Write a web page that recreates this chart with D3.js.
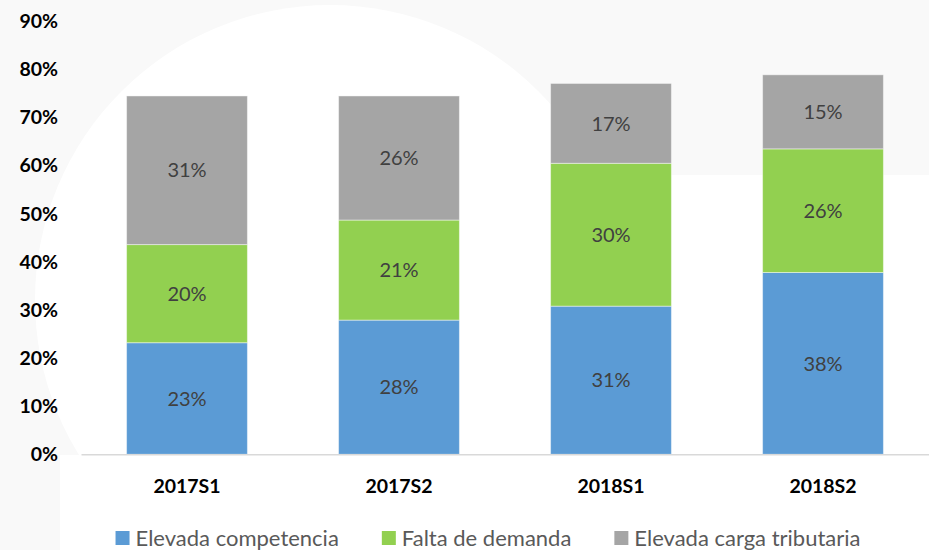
<!DOCTYPE html>
<html>
<head>
<meta charset="utf-8">
<script src="https://cdn.jsdelivr.net/npm/d3@7"></script>
<style>
  html, body { margin: 0; padding: 0; background: #fff; }
  svg { display: block; font-family: Lato, "Open Sans", sans-serif; }
</style>
</head>
<body>
<div id="chart"></div>
<script>
const categories = ['2017S1', '2017S2', '2018S1', '2018S2'];
const seriesNames = ['Elevada competencia', 'Falta de demanda', 'Elevada carga tributaria'];
const elevadaCompetencia = [0.232, 0.279, 0.308, 0.378];
const faltaDemanda = [0.204, 0.208, 0.297, 0.257];
const cargaTributaria = [0.309, 0.258, 0.166, 0.154];
const yTicks = [0, 0.1, 0.2, 0.3, 0.4, 0.5, 0.6, 0.7, 0.8, 0.9];

const width = 929;
const height = 550;
const margin = { top: 21.4, right: 0, bottom: 95.7, left: 81 };

const svg = d3.select('#chart').append('svg').attr('width', width).attr('height', height);

// faint watermark behind the chart
svg.append('rect').attr('width', width).attr('height', height).attr('fill', '#f9f9f9');
svg.append('circle').attr('cx', 330).attr('cy', 300).attr('r', 295).attr('fill', '#fff');
svg.append('rect').attr('x', 330).attr('y', 175).attr('width', width - 330).attr('height', height - 175).attr('fill', '#fff');
svg.append('rect').attr('x', 60).attr('y', 455).attr('width', 300).attr('height', 95).attr('fill', '#fff');

const keys = ['comp', 'dem', 'trib'];
const table = categories.map((c, i) => ({
  cat: c,
  comp: elevadaCompetencia[i],
  dem: faltaDemanda[i],
  trib: cargaTributaria[i]
}));

const x = d3
  .scaleBand()
  .domain(categories)
  .range([margin.left, width - margin.right])
  .paddingInner(0.43)
  .paddingOuter(0.215);
const y = d3
  .scaleLinear()
  .domain([0, 0.9])
  .range([height - margin.bottom, margin.top]);
const color = d3.scaleOrdinal().domain(keys).range(['#5b9bd5', '#92d050', '#a5a5a5']);
const stack = d3.stack().keys(keys)(table);
const pct = d3.format('.0%');

// y axis labels only
const yAxis = svg
  .append('g')
  .attr('transform', `translate(${margin.left},0)`)
  .call(d3.axisLeft(y).tickValues(yTicks).tickFormat(pct).tickSize(0).tickPadding(23));
yAxis.select('.domain').remove();
yAxis
  .selectAll('text')
  .attr('font-family', 'Lato, sans-serif')
  .attr('font-size', 19.5)
  .attr('font-weight', 700)
  .attr('fill', '#000');

const layers = svg
  .selectAll('g.stack')
  .data(stack)
  .join('g')
  .attr('class', 'stack')
  .attr('fill', (d) => color(d.key));

layers
  .selectAll('rect')
  .data((d) => d)
  .join('rect')
  .attr('x', (d) => x(d.data.cat))
  .attr('y', (d) => y(d[1]))
  .attr('width', x.bandwidth())
  .attr('height', (d) => y(d[0]) - y(d[1]))
  .attr('stroke', '#fff')
  .attr('stroke-opacity', 0.45)
  .attr('stroke-width', 1);

layers
  .selectAll('text')
  .data((d) => d)
  .join('text')
  .attr('x', (d) => x(d.data.cat) + x.bandwidth() / 2)
  .attr('y', (d) => (y(d[0]) + y(d[1])) / 2)
  .attr('dy', '0.36em')
  .attr('text-anchor', 'middle')
  .attr('font-size', 20)
  .attr('fill', '#404040')
  .text((d) => pct(d[1] - d[0]));

// x axis
const xAxis = svg
  .append('g')
  .attr('transform', `translate(0,${height - margin.bottom})`)
  .call(d3.axisBottom(x).tickSize(0).tickSizeOuter(0).tickPadding(25));
xAxis.select('.domain').attr('stroke', '#d9d9d9').attr('stroke-width', 1.5);
xAxis
  .selectAll('text')
  .attr('font-family', 'Lato, sans-serif')
  .attr('font-size', 19.5)
  .attr('font-weight', 700)
  .attr('fill', '#000');

// legend
const legend = svg.append('g').attr('class', 'legend');
const items = legend
  .selectAll('g')
  .data(keys)
  .join('g');
items
  .append('rect')
  .attr('y', 531)
  .attr('width', 14)
  .attr('height', 14)
  .attr('fill', (k) => color(k));
items
  .append('text')
  .attr('x', 20)
  .attr('y', 546)
  .attr('font-size', 22)
  .attr('fill', '#595959')
  .text((k, i) => seriesNames[i]);

let offset = 0;
const gap = 43;
const starts = [];
items.each(function () {
  starts.push(offset);
  offset += 20 + this.querySelector('text').getComputedTextLength() + gap;
});
const totalW = offset - gap;
const startX = 488 - totalW / 2;
items.attr('transform', (k, i) => `translate(${startX + starts[i]},0)`);
</script>
</body>
</html>
